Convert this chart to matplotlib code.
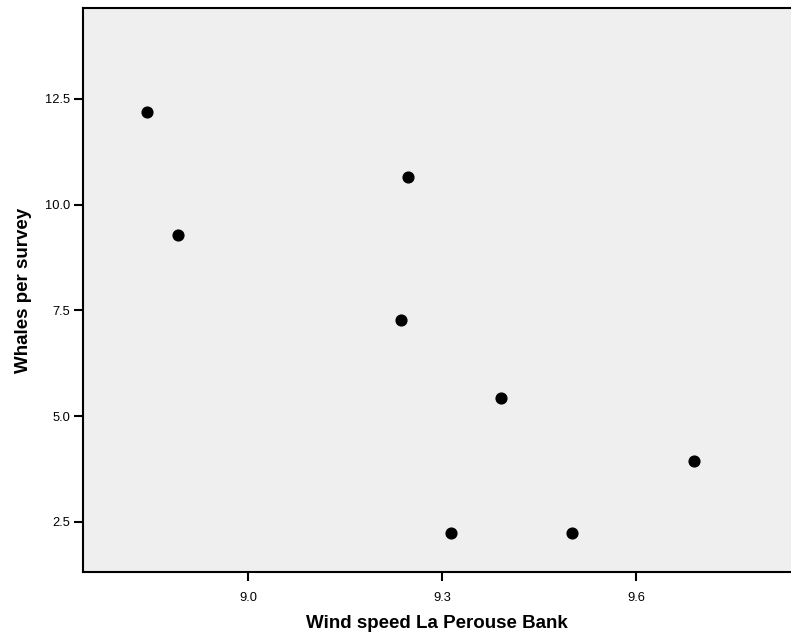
import matplotlib.pyplot as plt

wind = [8.844, 8.892, 9.247, 9.237, 9.391, 9.314, 9.501, 9.690]
whales = [12.19, 9.285, 10.66, 7.275, 5.43, 2.24, 2.24, 3.94]

plt.rcParams['font.family'] = ['Liberation Sans', 'DejaVu Sans']

fig = plt.figure(figsize=(7.91, 6.39), dpi=100)
ax = fig.add_axes([0.105, 0.105, 0.895, 0.8825])
ax.set_facecolor('#efefef')
ax.scatter(wind, whales, s=60, color='black', zorder=3)

ax.set_xlim(8.745, 9.84)
ax.set_ylim(1.32, 14.65)
ax.set_xticks([9.0, 9.3, 9.6])
ax.set_yticks([2.5, 5.0, 7.5, 10.0, 12.5])
ax.set_xticklabels(['9.0', '9.3', '9.6'])
ax.set_yticklabels(['2.5', '5.0', '7.5', '10.0', '12.5'])
ax.tick_params(length=6.5, width=1.5, labelsize=9.3)
ax.tick_params(axis='x', pad=8)
ax.tick_params(axis='y', pad=2.5)

ax.spines['right'].set_visible(False)
for s in ['left', 'bottom', 'top']:
    ax.spines[s].set_linewidth(1.5)

ax.set_xlabel('Wind speed La Perouse Bank', fontsize=13.5, fontweight='bold', va='center')
ax.set_ylabel('Whales per survey', fontsize=13.5, fontweight='bold', va='center')
ax.xaxis.set_label_coords(0.5, -0.092)
ax.yaxis.set_label_coords(-0.084, 0.5)

plt.savefig('out.png', dpi=100)
